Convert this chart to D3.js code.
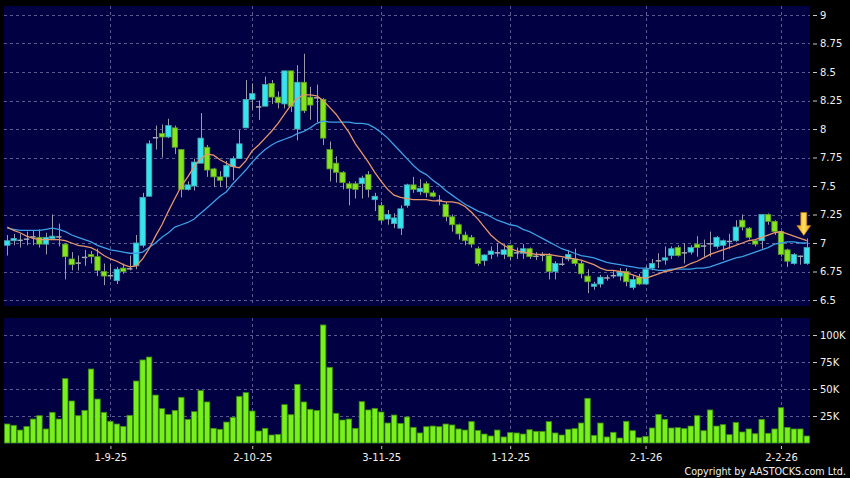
<!DOCTYPE html>
<html><head><meta charset="utf-8">
<script src="https://cdn.jsdelivr.net/npm/d3@7/dist/d3.min.js"></script>
<style>html,body{margin:0;padding:0;background:#000;}svg{display:block;}</style>
</head><body>
<svg id="chart" width="850" height="478"></svg>
<script>
// ---------- DATA ----------
const tickIndex  = [16, 38, 58, 78, 99, 120];
const tickLabels = ["1-9-25", "2-10-25", "3-11-25", "1-12-25", "2-1-26", "2-2-26"];
const priceTicks = [6.5, 6.75, 7, 7.25, 7.5, 7.75, 8, 8.25, 8.5, 8.75, 9];
const volumeTicks = [25000, 50000, 75000, 100000];

const open = [6.98,7.02,7.03,7.04,7.06,7.05,6.99,7.04,7.06,6.99, 6.86,6.83,6.88,6.90,6.88,6.75,6.72,6.67,6.78,6.78,
  6.80,6.98,7.41,7.93,7.96,7.93,8.01,7.82,7.47,7.50, 7.70,7.84,7.65,7.58,7.58,7.67,7.74,8.01,8.26,8.20,
  8.20,8.40,8.28,8.22,8.51,8.00,8.41,8.28,8.28,8.26, 7.82,7.70,7.62,7.52,7.52,7.52,7.60,7.38,7.33,7.21,
  7.17,7.13,7.33,7.51,7.45,7.52,7.44,7.38,7.34,7.23, 7.16,7.07,7.05,6.95,6.845,6.90,6.92,6.90,6.98,6.92,
  6.91,6.95,6.89,6.90,6.89,6.75,6.82,6.86,6.86,6.82, 6.71,6.62,6.64,6.70,6.72,6.71,6.75,6.61,6.70,6.64,
  6.78,6.85,6.85,6.89,6.96,6.92,6.92,6.99,6.98,7.00, 6.97,6.98,7.02,7.02,7.20,7.13,7.02,7.02,7.25,7.19,
  7.10,6.94,6.82,6.89,6.82];
const high = [7.07,7.08,7.08,7.10,7.11,7.12,7.09,7.25,7.17,7.00, 6.92,6.89,6.94,6.93,6.95,6.82,6.82,6.79,6.82,6.89,
  7.07,7.44,7.90,8.03,8.04,8.09,8.03,7.82,7.54,7.74, 8.14,7.86,7.66,7.63,7.72,7.76,7.99,8.43,8.40,8.25,
  8.46,8.43,8.33,8.51,8.51,8.56,8.66,8.37,8.39,8.27, 7.89,7.76,7.63,7.54,7.54,7.59,7.63,7.44,7.36,7.29,
  7.26,7.33,7.52,7.58,7.56,7.54,7.46,7.42,7.36,7.25, 7.17,7.10,7.07,6.97,6.90,6.97,7.00,6.99,6.98,6.96,
  6.99,6.96,6.92,6.92,6.91,6.84,6.87,6.94,6.95,6.85, 6.77,6.66,6.72,6.72,6.76,6.78,6.78,6.72,6.73,6.80,
  6.86,6.91,6.97,6.97,6.98,7.00,6.98,7.06,7.03,7.10, 7.06,7.03,7.08,7.20,7.25,7.14,7.03,7.25,7.26,7.20,
  7.11,6.95,6.91,6.89,7.04];
const low = [6.89,6.98,6.96,6.98,6.98,6.96,6.90,7.03,6.97,6.68, 6.76,6.76,6.80,6.82,6.71,6.63,6.68,6.64,6.73,6.76,
  6.77,6.96,7.41,7.82,7.75,7.92,7.78,7.40,7.46,7.46, 7.70,7.58,7.49,7.49,7.48,7.55,7.74,8.01,8.17,8.08,
  8.20,8.22,8.18,8.18,8.15,7.90,8.14,8.08,8.06,7.86, 7.54,7.53,7.47,7.33,7.39,7.39,7.40,7.28,7.17,7.16,
  7.13,7.07,7.31,7.44,7.42,7.40,7.40,7.33,7.19,7.10, 7.03,6.98,6.96,6.80,6.80,6.86,6.88,6.86,6.85,6.86,
  6.86,6.86,6.85,6.84,6.68,6.68,6.80,6.84,6.80,6.69, 6.56,6.59,6.61,6.67,6.69,6.67,6.62,6.59,6.63,6.63,
  6.76,6.78,6.81,6.86,6.88,6.82,6.90,6.88,6.88,6.88, 6.95,6.85,6.95,7.01,7.11,7.03,6.97,6.95,7.16,7.07,
  6.88,6.79,6.81,6.81,6.81];
const close = [7.02,7.04,7.03,7.04,7.06,6.99,7.05,7.06,7.06,6.88, 6.81,6.83,6.88,6.88,6.76,6.71,6.72,6.77,6.75,6.78,
  7.00,7.40,7.87,7.93,7.93,8.03,7.84,7.47,7.51,7.71, 7.92,7.64,7.58,7.55,7.68,7.74,7.87,8.26,8.31,8.20,
  8.39,8.28,8.23,8.51,8.20,8.41,8.16,8.21,8.28,7.92, 7.65,7.62,7.53,7.48,7.47,7.57,7.47,7.41,7.20,7.25,
  7.22,7.30,7.51,7.47,7.48,7.44,7.41,7.38,7.23,7.16, 7.08,7.02,6.99,6.82,6.895,6.93,6.92,6.94,6.88,6.92,
  6.95,6.88,6.89,6.90,6.75,6.82,6.82,6.90,6.82,6.73, 6.66,6.64,6.70,6.70,6.72,6.745,6.66,6.68,6.64,6.77,
  6.82,6.85,6.87,6.95,6.89,6.92,6.96,6.96,6.98,7.00, 7.05,7.02,7.02,7.14,7.14,7.05,6.99,7.25,7.19,7.10,
  6.90,6.84,6.90,6.89,6.96];
const volume = [17600,16400,12000,15400,22200,25300,13000,28400,22200,59600, 38900,25300,30200,68500,40700,28400,20100,17600,15400,25600,
  57400,76900,79600,44400,31800,26500,30200,42300,21900,29000, 48500,38000,13600,12700,19400,23800,43200,46600,29600,11100,
  13600,7400,8000,35500,26200,54300,38000,31200,30200,109300, 70100,27500,21300,22200,13600,38300,30600,32100,28700,18500,
  25900,18200,24100,14500,9300,15100,15700,15100,17600,16700, 13000,12000,19800,11700,8300,6500,12000,5600,9600,9300,
  8300,12300,10800,10800,19800,9300,7400,12700,13300,18500, 41400,7100,18500,5600,9900,4600,20100,11400,4900,6200,
  13900,26500,21900,13900,14200,13300,15700,25300,11400,30600, 15700,17000,7700,19100,10200,13000,8600,21900,9000,13000,
  32700,14500,13000,13000,6500];
const maShort = [7.14,7.11,7.09,7.06,7.04,7.03,7.03,7.03,7.03,7.02, 7.00,6.98,6.97,6.96,6.93,6.89,6.86,6.84,6.81,6.79,
  6.80,6.86,6.95,7.06,7.16,7.28,7.39,7.50,7.58,7.67, 7.74,7.78,7.77,7.73,7.70,7.67,7.66,7.72,7.81,7.86,
  7.92,7.98,8.05,8.13,8.21,8.27,8.30,8.30,8.29,8.25, 8.19,8.13,8.05,7.97,7.87,7.79,7.71,7.62,7.54,7.47,
  7.42,7.40,7.39,7.38,7.38,7.38,7.37,7.37,7.36,7.36, 7.35,7.32,7.27,7.21,7.14,7.07,7.02,6.98,6.95,6.93,
  6.92,6.91,6.90,6.90,6.90,6.89,6.88,6.87,6.86,6.85, 6.83,6.81,6.78,6.76,6.76,6.75,6.74,6.72,6.70,6.69,
  6.71,6.73,6.75,6.76,6.78,6.79,6.82,6.84,6.87,6.90, 6.92,6.94,6.96,6.98,7.00,7.02,7.03,7.05,7.07,7.09,
  7.10,7.08,7.06,7.04,7.02];
const maLong = [7.13,7.12,7.11,7.11,7.11,7.11,7.12,7.13,7.12,7.10, 7.07,7.05,7.03,7.01,6.98,6.96,6.94,6.93,6.92,6.91,
  6.91,6.92,6.96,7.00,7.05,7.09,7.14,7.16,7.18,7.21, 7.26,7.31,7.36,7.41,7.45,7.52,7.58,7.64,7.71,7.77,
  7.82,7.86,7.89,7.91,7.93,7.96,7.98,8.01,8.05,8.07, 8.06,8.06,8.06,8.06,8.05,8.05,8.04,8.01,7.97,7.92,
  7.86,7.80,7.74,7.68,7.63,7.60,7.55,7.51,7.46,7.42, 7.38,7.34,7.31,7.28,7.26,7.23,7.20,7.18,7.16,7.15,
  7.12,7.10,7.07,7.04,7.01,6.98,6.95,6.93,6.91,6.89, 6.88,6.87,6.85,6.83,6.82,6.81,6.80,6.79,6.78,6.78,
  6.77,6.76,6.76,6.77,6.77,6.77,6.77,6.78,6.78,6.79, 6.81,6.83,6.85,6.87,6.88,6.90,6.92,6.94,6.96,6.99,
  7.00,7.01,7.01,7.00,7.00];

// ---------- CHART ----------
const svg = d3.select("#chart");
const W = 850, H = 478;
const left = 4, right = 810;
const pTop = 6, pBot = 306;
const vTop = 318, vBot = 444;

const n = close.length;
const x = d3.scaleBand().domain(d3.range(n)).range([left, right]).paddingInner(0.16).paddingOuter(0.08);
const cx = i => x(i) + x.bandwidth() / 2;
const yP = d3.scaleLinear().domain([6.5, 9]).range([300, 15]);
const yV = d3.scaleLinear().domain([0, 100000]).range([443, 335]);

svg.append("rect").attr("width", W).attr("height", H).attr("fill", "#000");

const defs = svg.append("defs");
defs.append("clipPath").attr("id", "clipP").append("rect")
  .attr("x", left).attr("y", pTop).attr("width", right - left).attr("height", pBot - pTop);
const g1 = defs.append("linearGradient").attr("id", "arrowGrad").attr("x1", 0).attr("x2", 1).attr("y1", 0).attr("y2", 0);
g1.append("stop").attr("offset", "0%").attr("stop-color", "#e89a10");
g1.append("stop").attr("offset", "50%").attr("stop-color", "#ffe060");
g1.append("stop").attr("offset", "100%").attr("stop-color", "#e89a10");

// panels
svg.append("rect").attr("x", left).attr("y", pTop).attr("width", right - left).attr("height", pBot - pTop).attr("fill", "#000042");
svg.append("rect").attr("x", left).attr("y", vTop).attr("width", right - left).attr("height", vBot - vTop).attr("fill", "#000042");

const gridColor = "#5a5a90";
const grid = svg.append("g").attr("stroke", gridColor).attr("stroke-width", 1).attr("stroke-dasharray", "3,3").attr("fill", "none");
grid.selectAll(".hp").data(priceTicks).join("line")
  .attr("x1", left).attr("x2", right).attr("y1", d => Math.round(yP(d)) + 0.5).attr("y2", d => Math.round(yP(d)) + 0.5);
grid.selectAll(".hv").data(volumeTicks).join("line").attr("class", "hv")
  .attr("x1", left).attr("x2", right).attr("y1", d => Math.round(yV(d)) + 0.5).attr("y2", d => Math.round(yV(d)) + 0.5);
grid.selectAll(".vp").data(tickIndex).join("line").attr("class", "vp")
  .attr("x1", d => Math.round(cx(d)) + 0.5).attr("x2", d => Math.round(cx(d)) + 0.5).attr("y1", pTop).attr("y2", pBot);
grid.selectAll(".vv").data(tickIndex).join("line").attr("class", "vv")
  .attr("x1", d => Math.round(cx(d)) + 0.5).attr("x2", d => Math.round(cx(d)) + 0.5).attr("y1", vTop).attr("y2", vBot);

// candles
const idx = d3.range(n);
const cg = svg.append("g").attr("clip-path", "url(#clipP)");
cg.selectAll(".wick").data(idx).join("line")
  .attr("x1", i => Math.round(cx(i)) + 0.5).attr("x2", i => Math.round(cx(i)) + 0.5)
  .attr("y1", i => yP(high[i])).attr("y2", i => yP(low[i]))
  .attr("stroke", "#9a9aa8").attr("stroke-width", 1);
const bw = x.bandwidth();
cg.selectAll(".body").data(idx).join("rect")
  .attr("x", i => x(i)).attr("width", bw)
  .attr("y", i => yP(Math.max(open[i], close[i])))
  .attr("height", i => Math.max(1.5, Math.abs(yP(open[i]) - yP(close[i]))))
  .attr("fill", i => close[i] > open[i] ? "#36e4ee" : close[i] < open[i] ? "#84e41e" : "#a8a8b4")
  .attr("stroke", i => close[i] > open[i] ? "#4aa6b0" : close[i] < open[i] ? "#5a9a2a" : "none")
  .attr("stroke-width", 0.8);

// moving averages
const lineGen = arr => d3.line().x((d, i) => cx(i)).y(d => yP(d))(arr);
cg.append("path").attr("d", lineGen(maLong)).attr("fill", "none").attr("stroke", "#3d9fe6").attr("stroke-width", 1.3);
cg.append("path").attr("d", lineGen(maShort)).attr("fill", "none").attr("stroke", "#e8956a").attr("stroke-width", 1.3);

// arrow marker above last candle
const ax = cx(n - 1) - 3, tipY = yP(high[n - 1]) - 3;
svg.append("path")
  .attr("d", `M${ax - 3},${tipY - 23} L${ax + 3},${tipY - 23} L${ax + 3},${tipY - 10} L${ax + 7},${tipY - 10} L${ax},${tipY} L${ax - 7},${tipY - 10} L${ax - 3},${tipY - 10} Z`)
  .attr("fill", "url(#arrowGrad)").attr("stroke", "#c07808").attr("stroke-width", 0.6);

// volume bars
svg.append("g").selectAll("rect").data(idx).join("rect")
  .attr("x", i => x(i)).attr("width", bw)
  .attr("y", i => yV(volume[i])).attr("height", i => yV(0) - yV(volume[i]))
  .attr("fill", "#78f01c").attr("stroke", "#3c8a10").attr("stroke-width", 0.8);

// axes
const fmtP = d => String(+d.toFixed(2));
const axP = svg.append("g").attr("transform", `translate(813,0)`)
  .call(d3.axisRight(yP).tickValues(priceTicks).tickFormat(fmtP).tickSize(4).tickPadding(3));
const axV = svg.append("g").attr("transform", `translate(813,0)`)
  .call(d3.axisRight(yV).tickValues(volumeTicks).tickFormat(d => d / 1000 + "K").tickSize(4).tickPadding(3));
const xTick = d3.scaleOrdinal().domain(tickIndex).range(tickLabels);
const axX = svg.append("g").attr("transform", `translate(0,446)`)
  .call(d3.axisBottom(d3.scaleLinear().domain([0, n - 1]).range([cx(0), cx(n - 1)]))
    .tickValues(tickIndex).tickFormat(d => xTick(d)).tickSize(3).tickPadding(5));
[axP, axV, axX].forEach(a => {
  a.select(".domain").remove();
  a.selectAll(".tick line").attr("stroke", "#c8c8c8");
  a.selectAll("text").attr("fill", "#f0f0f0").style("font-family", "'DejaVu Sans', Verdana, sans-serif").style("font-size", "10px");
});

svg.append("text").attr("x", 846).attr("y", 475).attr("text-anchor", "end")
  .attr("fill", "#f0f0f0").style("font-family", "'DejaVu Sans', Verdana, sans-serif").style("font-size", "9.6px")
  .text("Copyright by AASTOCKS.com Ltd.");
</script>
</body></html>
